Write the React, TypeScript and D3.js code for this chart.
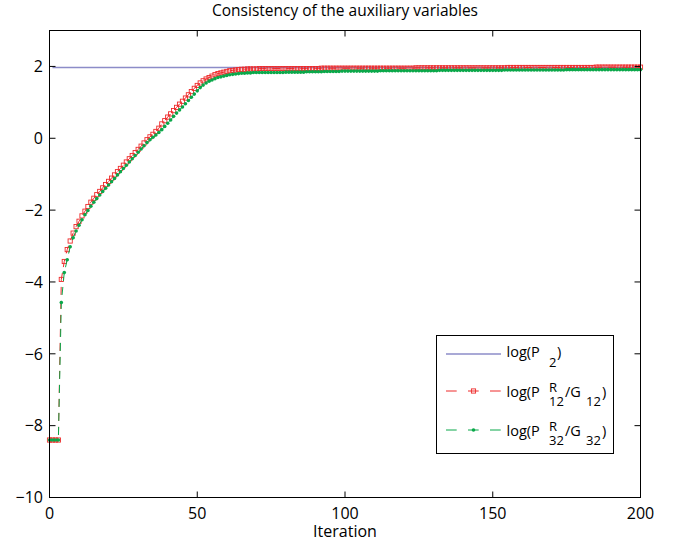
import React from "react";
import * as d3 from "d3";

const titleText = "Consistency of the auxiliary variables";
const xLabelText = "Iteration";
const xTicks = [0, 50, 100, 150, 200];
const yTicks = [-10, -8, -6, -4, -2, 0, 2];

// iterations 0..200
const redValues = [
  -8.4, -8.4, -8.4, -8.4, -3.93, -3.43, -3.10, -2.86, -2.64, -2.46,
  -2.31, -2.16, -2.03, -1.90, -1.78, -1.67, -1.57, -1.48, -1.38, -1.29,
  -1.20, -1.11, -1.02, -0.93, -0.84, -0.75, -0.66, -0.57, -0.48, -0.40,
  -0.31, -0.22, -0.13, -0.04, 0.04, 0.11, 0.19, 0.28, 0.40, 0.49,
  0.59, 0.68, 0.77, 0.86, 0.95, 1.03, 1.12, 1.21, 1.30, 1.39,
  1.47, 1.54, 1.60, 1.65, 1.69, 1.73, 1.77, 1.80, 1.82, 1.84,
  1.86, 1.88, 1.89, 1.90, 1.91, 1.92, 1.92, 1.93, 1.93, 1.93,
  1.93, 1.94, 1.94, 1.94, 1.94, 1.94, 1.94, 1.94, 1.94, 1.94,
  1.94, 1.94, 1.94, 1.94, 1.94, 1.94, 1.94, 1.94, 1.94, 1.94,
  1.94, 1.94, 1.95, 1.95, 1.95, 1.95, 1.95, 1.95, 1.95, 1.95,
  1.95, 1.95, 1.95, 1.95, 1.95, 1.95, 1.95, 1.95, 1.95, 1.95,
  1.95, 1.95, 1.95, 1.95, 1.95, 1.95, 1.95, 1.95, 1.95, 1.95,
  1.95, 1.95, 1.95, 1.95, 1.96, 1.96, 1.96, 1.96, 1.96, 1.96,
  1.96, 1.96, 1.96, 1.96, 1.96, 1.96, 1.96, 1.96, 1.96, 1.96,
  1.96, 1.96, 1.96, 1.96, 1.96, 1.96, 1.96, 1.96, 1.96, 1.96,
  1.96, 1.96, 1.96, 1.96, 1.96, 1.97, 1.97, 1.97, 1.97, 1.97,
  1.97, 1.97, 1.97, 1.97, 1.97, 1.97, 1.97, 1.97, 1.97, 1.97,
  1.97, 1.97, 1.97, 1.97, 1.97, 1.97, 1.97, 1.97, 1.97, 1.97,
  1.97, 1.97, 1.97, 1.97, 1.97, 1.98, 1.98, 1.98, 1.98, 1.98,
  1.98, 1.98, 1.98, 1.98, 1.98, 1.98, 1.98, 1.98, 1.98, 1.98,
  1.98,
];

const greenValues = [
  -8.4, -8.4, -8.4, -8.4, -4.57, -3.74, -3.38, -3.02, -2.77, -2.58,
  -2.42, -2.27, -2.13, -2.01, -1.89, -1.78, -1.68, -1.58, -1.48, -1.39,
  -1.30, -1.21, -1.12, -1.02, -0.93, -0.84, -0.75, -0.66, -0.57, -0.48,
  -0.39, -0.30, -0.21, -0.12, -0.04, 0.03, 0.09, 0.16, 0.24, 0.33,
  0.42, 0.51, 0.61, 0.70, 0.79, 0.87, 0.96, 1.05, 1.14, 1.23,
  1.32, 1.41, 1.48, 1.54, 1.59, 1.62, 1.66, 1.69, 1.71, 1.73,
  1.75, 1.77, 1.78, 1.79, 1.80, 1.81, 1.81, 1.82, 1.82, 1.83,
  1.83, 1.83, 1.83, 1.83, 1.83, 1.83, 1.83, 1.83, 1.83, 1.83,
  1.84, 1.84, 1.84, 1.84, 1.84, 1.84, 1.84, 1.85, 1.85, 1.85,
  1.85, 1.85, 1.85, 1.86, 1.86, 1.86, 1.86, 1.86, 1.86, 1.87,
  1.87, 1.87, 1.87, 1.87, 1.87, 1.87, 1.87, 1.87, 1.87, 1.87,
  1.87, 1.87, 1.88, 1.88, 1.88, 1.88, 1.88, 1.88, 1.88, 1.88,
  1.88, 1.88, 1.88, 1.88, 1.88, 1.88, 1.88, 1.88, 1.88, 1.88,
  1.88, 1.88, 1.89, 1.89, 1.89, 1.89, 1.89, 1.89, 1.89, 1.89,
  1.89, 1.89, 1.89, 1.89, 1.89, 1.89, 1.89, 1.89, 1.89, 1.89,
  1.89, 1.89, 1.89, 1.89, 1.90, 1.90, 1.90, 1.90, 1.90, 1.90,
  1.90, 1.90, 1.90, 1.90, 1.90, 1.90, 1.90, 1.90, 1.90, 1.90,
  1.90, 1.90, 1.90, 1.90, 1.90, 1.91, 1.91, 1.91, 1.91, 1.91,
  1.91, 1.91, 1.91, 1.91, 1.91, 1.91, 1.91, 1.91, 1.91, 1.91,
  1.91, 1.91, 1.91, 1.91, 1.91, 1.91, 1.91, 1.91, 1.91, 1.91,
  1.91,
];

const blueStart = 1;
const blueEnd = 200;
const blueValue = 1.97;

const BLUE = "#8c8cc8";
const RED = "#ee2b2b";
const GREEN = "#0aa84a";
const FONT = "'Open Sans', 'Noto Sans', sans-serif";

export default function App() {
  const W = 683;
  const H = 548;
  const left = 49.5, right = 640.5, top = 30.5, bottom = 497.5;
  const x = d3.scaleLinear().domain([0, 200]).range([left, right]);
  const y = d3.scaleLinear().domain([-10, 3]).range([bottom, top]);

  const redPts = redValues.map((v, i) => [i, v] as [number, number]);
  const greenPts = greenValues.map((v, i) => [i, v] as [number, number]);
  const line = d3
    .line<[number, number]>()
    .x((d) => x(d[0]))
    .y((d) => y(d[1]));
  const bluePath = line([
    [blueStart, blueValue],
    [blueEnd, blueValue],
  ]) as string;

  const tickLen = 6;
  const sq = 4.2;

  const legendX = 436.5, legendY = 335.5, legendW = 177, legendH = 118;
  const rowY = [354, 391, 430];
  const lx0 = 446, lx1 = 501, lmid = 473.5;
  const tx = 506.5;
  const fs = 14.5;
  const fsSub = 13;

  const legendLabel = (base: number, sub: string, sup: boolean, key: string) => {
    if (!sup) {
      return (
        <g key={key}>
          <text x={tx} y={base} fontSize={fs}>log(P</text>
          <text x={549} y={base + 10} fontSize={fsSub}>{sub}</text>
          <text x={557} y={base} fontSize={fs}>)</text>
        </g>
      );
    }
    return (
      <g key={key}>
        <text x={tx} y={base} fontSize={fs}>log(P</text>
        <text x={549} y={base - 5} fontSize={fsSub}>R</text>
        <text x={549} y={base + 9} fontSize={fsSub}>{sub}</text>
        <text x={565} y={base} fontSize={fs}>/G</text>
        <text x={586} y={base + 9} fontSize={fsSub}>{sub}</text>
        <text x={602} y={base} fontSize={fs}>)</text>
      </g>
    );
  };

  return (
    <svg width={W} height={H} style={{ position: "absolute", left: 0, top: 0, background: "#fff" }} fontFamily={FONT}>
      <rect x={0} y={0} width={W} height={H} fill="#fff" />
      <text x={(left + right) / 2} y={16} textAnchor="middle" fontSize={15.5} fill="#000">
        {titleText}
      </text>

      {/* data */}
      <path d={bluePath} stroke={BLUE} strokeWidth={1.3} fill="none" />
      <path d={line(redPts) as string} stroke={RED} strokeWidth={1} strokeDasharray="8,6" fill="none" />
      {redPts.map((d, i) => (
        <rect
          key={"r" + i}
          x={x(d[0]) - sq / 2}
          y={y(d[1]) - sq / 2}
          width={sq}
          height={sq}
          fill="none"
          stroke={RED}
          strokeWidth={0.9}
        />
      ))}
      <path d={line(greenPts) as string} stroke={GREEN} strokeWidth={1} strokeDasharray="8,6" fill="none" />
      {greenPts.map((d, i) => (
        <circle key={"g" + i} cx={x(d[0])} cy={y(d[1])} r={1.8} fill={GREEN} />
      ))}

      {/* frame */}
      <rect x={left} y={top} width={right - left} height={bottom - top} fill="none" stroke="#000" strokeWidth={1} />
      {xTicks.map((t) => (
        <g key={"xt" + t}>
          <line x1={x(t)} x2={x(t)} y1={bottom} y2={bottom - tickLen} stroke="#000" />
          <line x1={x(t)} x2={x(t)} y1={top} y2={top + tickLen} stroke="#000" />
          <text x={x(t)} y={519} textAnchor="middle" fontSize={16} fill="#000">
            {t}
          </text>
        </g>
      ))}
      {yTicks.map((t) => (
        <g key={"yt" + t}>
          <line x1={left} x2={left + tickLen} y1={y(t)} y2={y(t)} stroke="#000" />
          <line x1={right} x2={right - tickLen} y1={y(t)} y2={y(t)} stroke="#000" />
          <text x={43} y={y(t)} dy="0.36em" textAnchor="end" fontSize={16} fill="#000">
            {t < 0 ? "\u2212" + Math.abs(t) : String(t)}
          </text>
        </g>
      ))}
      <text x={(left + right) / 2} y={537} textAnchor="middle" fontSize={16} fill="#000">
        {xLabelText}
      </text>

      {/* legend */}
      <rect x={legendX} y={legendY} width={legendW} height={legendH} fill="#fff" stroke="#000" strokeWidth={1} />
      <line x1={lx0} x2={lx1} y1={rowY[0]} y2={rowY[0]} stroke={BLUE} strokeWidth={1.3} />
      <line x1={lx0} x2={lx1} y1={rowY[1]} y2={rowY[1]} stroke={RED} strokeWidth={1} strokeDasharray="10.7,11.3" />
      <rect x={lmid - sq / 2} y={rowY[1] - sq / 2} width={sq} height={sq} fill="none" stroke={RED} strokeWidth={0.9} />
      <line x1={lx0} x2={lx1} y1={rowY[2]} y2={rowY[2]} stroke={GREEN} strokeWidth={1} strokeDasharray="10.7,11.3" />
      <circle cx={lmid} cy={rowY[2]} r={1.8} fill={GREEN} />
      <g fill="#000">
        {legendLabel(357, "2", false, "l1")}
        {legendLabel(397, "12", true, "l2")}
        {legendLabel(436, "32", true, "l3")}
      </g>
    </svg>
  );
}
